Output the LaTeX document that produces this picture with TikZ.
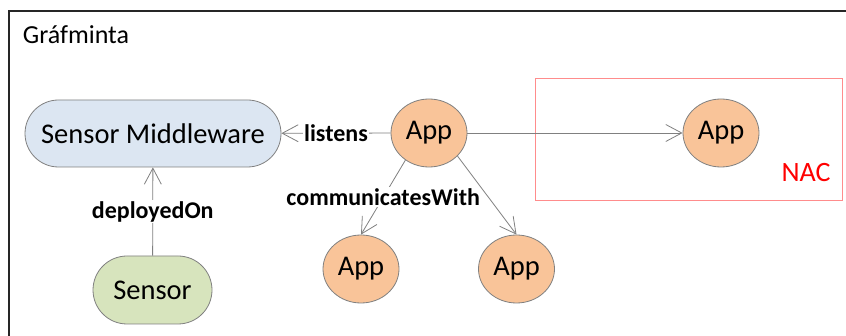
\documentclass[tikz,border=0pt]{standalone}
\usepackage{fontspec}
\setmainfont{Carlito}
\usetikzlibrary{shapes.geometric,shapes.misc,arrows.meta}
\definecolor{mwfill}{HTML}{DCE6F2}
\definecolor{sensfill}{HTML}{D7E4BD}
\definecolor{appfill}{HTML}{F9C499}
\definecolor{edgegray}{HTML}{808080}
\definecolor{nacred}{HTML}{FF8C8C}
\tikzset{
  pill/.style={rounded rectangle, draw=edgegray, line width=0.8pt, inner sep=0pt,
    font=\fontsize{28.5}{30}\selectfont},
  appnode/.style={ellipse, draw=edgegray, line width=0.8pt, fill=appfill, inner sep=0pt,
    minimum width=76pt, minimum height=68pt, font=\fontsize{28.5}{30}\selectfont},
  conn/.style={draw=edgegray, line width=0.8pt,
    -{Straight Barb[length=16pt,width=17pt,line width=0.8pt]}},
  lbl/.style={fill=white, inner sep=1.5pt, font=\fontsize{24}{26}\selectfont\bfseries, text=black}
}
\begin{document}
\begin{tikzpicture}[x=1pt,y=-1pt]
\useasboundingbox (0,0) rectangle (846,336);
\clip (0,0) rectangle (846,336);
\fill[white] (0,0) rectangle (846,336);
% outer frame
\draw[line width=2pt, black!85] (8.5,11) rectangle (900,400);
\node[anchor=base west, inner sep=0pt, font=\fontsize{26}{28}\selectfont] (title) at (22.7,44) {Gráfminta};
% NAC box
\node[draw=nacred, line width=1pt, minimum width=307pt, minimum height=122pt, inner sep=0pt] (nacbox) at (688.5,140) {};
\node[text=red, font=\fontsize{28}{30}\selectfont, inner sep=0pt] (nac) at (806,173) {NAC};
% nodes
\node[pill, fill=mwfill, minimum width=256pt, minimum height=67pt] (mw) at (153,133.5) {Sensor Middleware};
\node[pill, fill=sensfill, minimum width=119pt, minimum height=68pt] (sensor) at (152.5,290) {Sensor};
\node[appnode] (app1) at (429,133) {App};
\node[appnode] (appnac) at (721,133) {App};
\node[appnode] (appbl) at (361,269) {App};
\node[appnode] (appbr) at (516.5,269) {App};
% connectors
\draw[conn] (sensor) -- node[lbl] {deployedOn} (mw);
\draw[conn] (app1) -- node[lbl] {listens} (mw);
\draw[conn] (app1.229) -- node[lbl] {communicatesWith} (appbl.north);
\draw[conn] (app1.321) -- (appbr.north);
\draw[conn] (app1) -- (appnac);
\end{tikzpicture}
\end{document}
